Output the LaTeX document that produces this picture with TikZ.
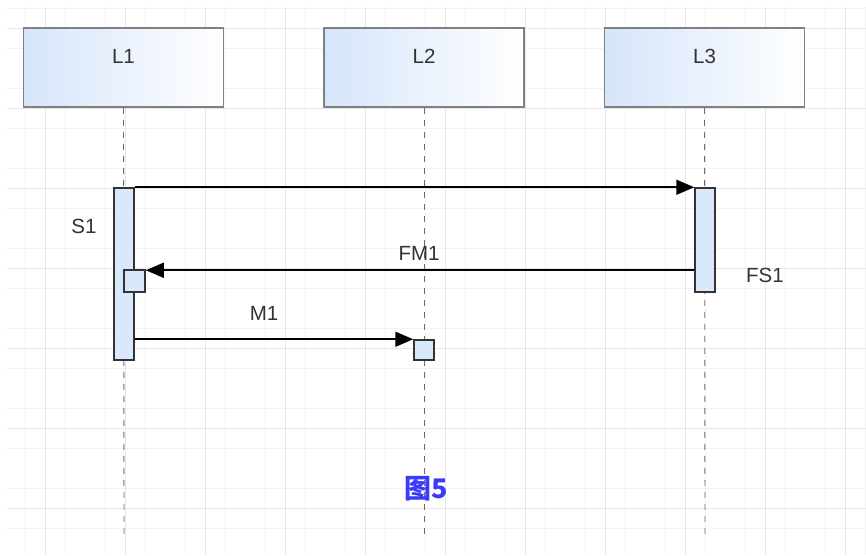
\documentclass[tikz,border=0pt]{standalone}
\usepackage{fontspec}
\setmainfont{Liberation Sans}
\newfontfamily\cjkfont{Noto Sans CJK SC}
\usetikzlibrary{arrows.meta,calc}
\definecolor{gridminor}{RGB}{243,243,243}
\definecolor{gridmajor}{RGB}{230,230,230}
\definecolor{actfill}{RGB}{218,232,252}
\definecolor{hdrleft}{RGB}{214,229,250}
\definecolor{hdrdraw}{RGB}{128,128,128}
\definecolor{txtgray}{RGB}{51,51,51}
\definecolor{lifegray}{RGB}{110,110,110}
\definecolor{capblue}{RGB}{58,58,250}
\begin{document}
\begin{tikzpicture}[x=1pt,y=-1pt,
  hdr/.style={draw=hdrdraw, line width=1.6pt, left color=hdrleft, right color=white,
    minimum width=200pt, minimum height=79pt, inner sep=0pt},
  lbl/.style={text=txtgray, font=\fontsize{20.5}{24}\selectfont, inner sep=0pt},
  actbox/.style={draw=black!80, line width=1.5pt, fill=actfill, inner sep=0pt, minimum width=20pt},
  life/.style={draw=lifegray, line width=0.9pt, dash pattern=on 6pt off 6pt},
  msg/.style={draw=black, line width=1.6pt, -{Triangle[length=18pt,width=15pt]}},
  minorline/.style={draw=gridminor, line width=1pt},
  majorline/.style={draw=gridmajor, line width=1pt}]
\useasboundingbox (0,0) rectangle (866,555);
\fill[white] (0,0) rectangle (866,555);
% grid
\foreach \x in {25,65,...,865} \draw[minorline] (\x,7) -- (\x,555);
\foreach \y in {8,48,...,548} \draw[minorline] (7,\y) -- (866,\y);
\foreach \x in {45,125,...,845} \draw[majorline] (\x,7) -- (\x,555);
\foreach \y in {28,108,...,508} \draw[majorline] (7,\y) -- (866,\y);
% headers
\node[hdr] (h1) at (123.5,67.5) {};
\node[hdr] (h2) at (424,67.5) {};
\node[hdr] (h3) at (704.5,67.5) {};
\node[lbl] (t1) at ($(h1.north)+(0,29)$) {L1};
\node[lbl] (t2) at ($(h2.north)+(0,29)$) {L2};
\node[lbl] (t3) at ($(h3.north)+(0,29)$) {L3};
% lifelines
\coordinate (e1) at (124,535);
\coordinate (e2) at (424,535);
\coordinate (e3) at (705,535);
\draw[life] (h1.south) -- (e1);
\draw[life] (h2.south) -- (e2);
\draw[life] (h3.south) -- (e3);
% activations
\node[actbox, minimum height=172pt] (a1) at (124,274) {};
\node[actbox, minimum width=21pt, minimum height=22pt] (sb) at (134.5,281) {};
\node[actbox, minimum height=104pt] (a3) at (705,240) {};
\node[actbox, minimum height=20pt] (a2) at (424,350) {};
% messages
\draw[msg] (a1.north east) -- (a3.north west);
\draw[msg] ($(a3.north west)+(0,83)$) -- ($(sb.north east)+(0,1)$);
\draw[msg] (a1.east |- a2.north) -- (a2.north west);
% labels
\node[lbl] (s1) at (84,226) {S1};
\node[lbl] (fs1) at (765,275) {FS1};
\node[lbl] (fm1) at (419,253) {FM1};
\node[lbl] (m1) at (264,313) {M1};
\node[text=capblue, font=\cjkfont\bfseries\fontsize{27}{30}\selectfont, inner sep=0pt] (cap) at (426,489) {图5};
\end{tikzpicture}
\end{document}
